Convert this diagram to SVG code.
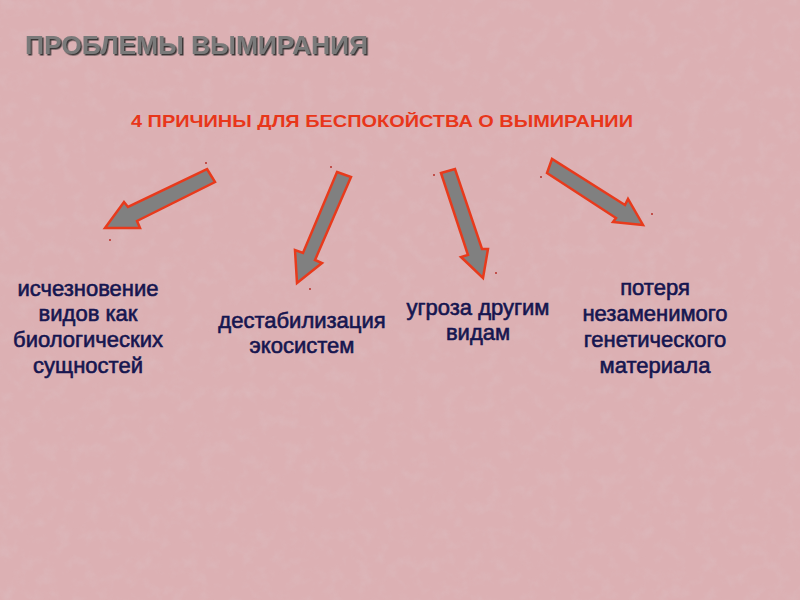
<svg xmlns="http://www.w3.org/2000/svg" width="800" height="600" viewBox="0 0 800 600">
<defs>
<filter id="tex" x="0" y="0" width="100%" height="100%">
<feTurbulence type="fractalNoise" baseFrequency="0.07" numOctaves="4" seed="5" result="n"/>
<feColorMatrix in="n" type="matrix" values="0 0 0 0 0.72  0 0 0 0 0.52  0 0 0 0 0.54  1.6 0 0 0 -0.75"/>
</filter>
<filter id="sh" x="-5%" y="-20%" width="110%" height="140%">
<feDropShadow dx="1.5" dy="1.5" stdDeviation="0.3" flood-color="#2a2a2a" flood-opacity="0.9"/>
</filter>
</defs>
<style>
.title{font-family:"Liberation Sans",Arial,sans-serif;font-weight:bold;font-size:25px;fill:#7a7a7a}
.sub{font-family:"Liberation Sans",Arial,sans-serif;font-weight:bold;font-size:17px;fill:#e8361a}
.lbl{font-family:"Liberation Sans",Arial,sans-serif;font-size:22px;fill:#161650;text-anchor:middle;stroke:#161650;stroke-width:0.6}
.arr{fill:#808080;stroke:#e83a1c;stroke-width:2.5;stroke-linejoin:miter}
.dot{fill:#b8302a}
</style>
<rect width="800" height="600" fill="#dcb0b3"/>
<rect width="800" height="600" filter="url(#tex)" opacity="0.6"/>
<g id="title"><text class="title" x="25" y="54" textLength="343" lengthAdjust="spacingAndGlyphs" filter="url(#sh)">ПРОБЛЕМЫ ВЫМИРАНИЯ</text></g>
<g id="subtitle"><text class="sub" x="131" y="127" textLength="502" lengthAdjust="spacingAndGlyphs">4 ПРИЧИНЫ ДЛЯ БЕСПОКОЙСТВА О ВЫМИРАНИИ</text></g>
<g id="connectors">
<polygon class="arr" points="207,169 215,182 137,221 140,228 105,228 124,202 128,207"/>
<polygon class="arr" points="337,172 351,177 315,260 322,263 297,283 295,250 303,253"/>
<polygon class="arr" points="441,173 455,169 482,249 488,249 483,278 461,257 468,255"/>
<polygon class="arr" points="552,159 547,173 616,218 613,222 643,225 628,199 625,205"/>
<circle class="dot" cx="206" cy="163" r="1"/>
<circle class="dot" cx="110" cy="240" r="1"/>
<circle class="dot" cx="331" cy="167" r="1"/>
<circle class="dot" cx="310" cy="289" r="1"/>
<circle class="dot" cx="434" cy="175" r="1"/>
<circle class="dot" cx="496" cy="273" r="1"/>
<circle class="dot" cx="541" cy="177" r="1"/>
<circle class="dot" cx="652" cy="214" r="1"/>
</g>
<g id="node1"><text class="lbl"><tspan x="88" y="296">исчезновение</tspan><tspan x="88" y="321">видов как</tspan><tspan x="88" y="347">биологических</tspan><tspan x="88" y="373">сущностей</tspan></text></g>
<g id="node2"><text class="lbl"><tspan x="302" y="328">дестабилизация</tspan><tspan x="302" y="353">экосистем</tspan></text></g>
<g id="node3"><text class="lbl"><tspan x="478" y="315">угроза другим</tspan><tspan x="478" y="340">видам</tspan></text></g>
<g id="node4"><text class="lbl"><tspan x="655" y="295">потеря</tspan><tspan x="655" y="321">незаменимого</tspan><tspan x="655" y="347">генетического</tspan><tspan x="655" y="373">материала</tspan></text></g>
</svg>
